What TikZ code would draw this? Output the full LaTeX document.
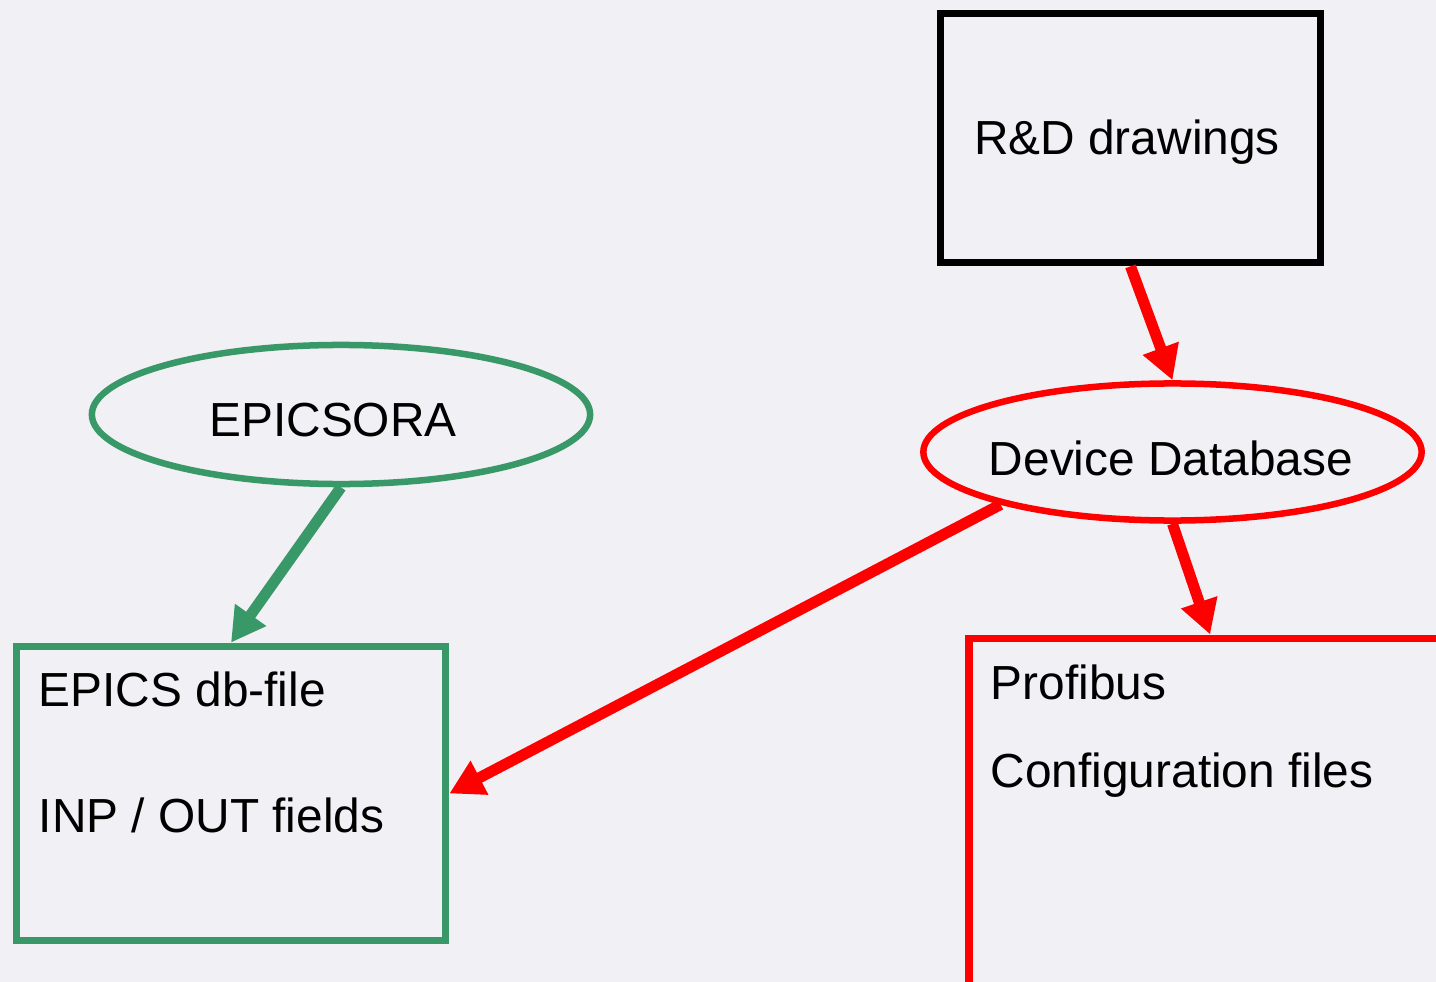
\documentclass[tikz,border=0pt]{standalone}
\usepackage{fontspec}
\setmainfont{Liberation Sans}
\usetikzlibrary{shapes.geometric,arrows.meta}
\definecolor{bgcol}{RGB}{240,240,245}
\definecolor{epicsgreen}{RGB}{56,152,104}
\definecolor{ddred}{RGB}{255,0,0}
\tikzset{
	box/.style={draw,rectangle,line width=0.075cm,inner sep=0pt},
	oval/.style={draw,ellipse,line width=0.065cm,inner sep=0pt},
	txt/.style={inner sep=0pt,anchor=base,font=\fontsize{13.6}{17.6}\selectfont},
	flow/.style={line width=0.11cm,-{Triangle[width=0.36cm,length=0.34cm]}}
}
\begin{document}
\begin{tikzpicture}[x=0.01cm,y=-0.01cm]
		\useasboundingbox (0,0) rectangle (1436,982);
		\fill[bgcol] (0,0) rectangle (1436,982);
		\clip (0,0) rectangle (1436,982);
		
		\node (rd)[box,draw=black,minimum width=3.8cm,minimum height=2.49cm] at (1130.5,138) {};
		\node (rdtxt)[txt] at (1127,155) {R\&D drawings};
		
		\node (dd)[oval,draw=ddred,minimum width=4.98cm,minimum height=1.37cm] at (1172.5,452) {};
		\node (ddtxt)[txt] at (1171,475) {Device Database};
		
		\node (eo)[oval,draw=epicsgreen,minimum width=4.98cm,minimum height=1.39cm] at (341,414.5) {};
		\node (eotxt)[txt] at (333,436) {EPICSORA};
		
		\node (db)[box,draw=epicsgreen,minimum width=4.29cm,minimum height=2.94cm] at (231,793.5) {};
		\node (dbtxt)[txt,anchor=north west,align=left] at (38,671.5) {EPICS db-file\\[18pt]INP / OUT fields};
		
		\node (pf)[box,draw=ddred,anchor=north west,minimum width=5.5cm,minimum height=4cm] at (965,634.5) {};
		\node (pftxt)[txt,anchor=north west,align=left] at (990,664.5) {Profibus\\[7.3pt]Configuration files};
		
		\draw[flow,ddred] (rd.south) -- (dd.north);
		\draw[flow,ddred] (dd.south) -- ([xshift=2.45cm]pf.north west);
		\draw[flow,ddred] (dd.197) -- (db.east);
		\draw[flow,epicsgreen] (eo.south) -- (db.north);
	\end{tikzpicture}
\end{document}
